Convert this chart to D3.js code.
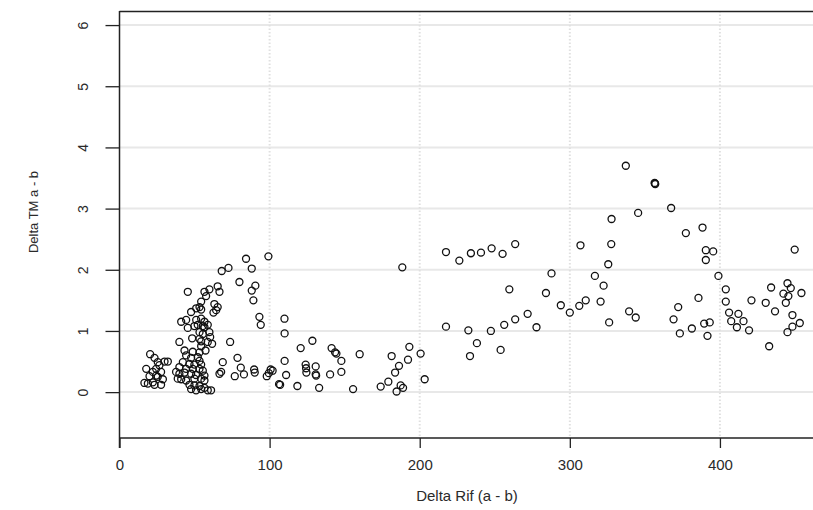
<!DOCTYPE html>
<html>
<head>
<meta charset="utf-8">
<script src="https://cdn.jsdelivr.net/npm/d3@7/dist/d3.min.js"></script>
<style>
  html, body { margin: 0; padding: 0; background: #fff; }
  svg { display: block; }
  text { font-family: "Liberation Sans", Arial, sans-serif; fill: #2a2a2a; }
</style>
</head>
<body>
<svg id="chart" width="813" height="510"></svg>
<script>
// ---- data (Delta Rif (a - b), Delta TM a - b) ----
const deltaRif = [
  // left low cluster
  20.4,23.3,25.5,30.0,32.2,26.6,17.8,24.4,22.2,27.7,24.4,20.0,25.5,28.9,16.6,22.2,18.9,23.3,27.7,
  // main dense cluster (lower)
  45.5,49.9,56.6,53.3,55.5,59.9,60.4,48.4,53.3,54.4,58.8,61.7,39.9,54.4,43.3,48.8,53.3,57.3,44.4,47.7,
  52.2,53.3,42.2,46.6,49.9,54.4,39.9,44.4,48.8,53.3,55.5,37.7,39.9,43.3,47.7,51.0,56.6,38.8,41.1,44.4,
  49.9,54.4,56.6,46.6,49.9,53.3,56.6,47.7,54.4,58.8,61.0,51.0,
  // main dense cluster (upper)
  45.5,56.6,59.9,65.4,66.6,57.7,54.4,53.3,51.1,54.4,63.2,64.4,62.6,65.4,47.7,41.1,44.4,51.1,54.4,56.6,
  52.1,55.5,58.8,
  // 60 - 130
  68.1,72.6,79.9,84.3,99.2,88.1,90.5,88.1,89.2,93.2,94.1,109.9,110.0,73.7,78.6,68.8,66.6,67.7,76.8,80.8,
  82.9,89.7,90.1,98.1,100.7,99.5,102.0,106.3,107.0,111.0,118.5,110.0,120.7,128.5,
  // 120 - 210
  124.0,124.5,124.3,130.7,130.7,131.0,133.0,140.3,141.3,143.6,144.5,147.8,147.8,160.0,155.6,181.3,193.1,
  200.6,192.2,186.2,183.6,203.3,179.1,174.0,187.3,188.9,184.6,188.4,
  // right part
  217.5,226.4,234.1,240.8,247.9,255.2,263.6,259.7,217.5,232.4,247.4,256.3,263.6,271.9,277.8,284.1,287.8,
  294.0,300.0,306.3,307.1,310.6,316.7,320.5,322.5,325.6,326.2,327.8,327.6,337.3,339.5,343.9,345.5,356.7,
  356.9,356.5,367.5,369.1,372.2,373.3,377.3,381.3,385.7,388.4,389.5,390.6,395.5,390.6,393.2,391.7,399.0,
  403.9,403.9,406.1,412.3,407.5,415.7,411.3,419.4,421.0,430.5,434.1,436.7,442.3,443.9,445.0,447.2,445.6,
  454.3,448.3,453.2,448.3,445.0,449.8,432.8,233.5,238.1,253.9
];
const deltaTM = [
  0.62,0.56,0.49,0.50,0.50,0.44,0.38,0.38,0.33,0.33,0.27,0.26,0.25,0.21,0.15,0.16,0.14,0.12,0.12,
  1.05,1.08,1.06,0.98,0.95,0.98,0.90,0.88,0.87,0.83,0.82,0.79,0.82,0.75,0.68,0.66,0.65,0.68,0.60,0.56,
  0.57,0.51,0.49,0.46,0.45,0.45,0.41,0.38,0.38,0.38,0.35,0.33,0.30,0.32,0.30,0.28,0.27,0.22,0.21,0.19,
  0.22,0.22,0.19,0.12,0.11,0.10,0.07,0.05,0.05,0.03,0.03,0.03,
  1.64,1.64,1.68,1.73,1.64,1.57,1.48,1.39,1.37,1.35,1.44,1.34,1.30,1.39,1.31,1.15,1.18,1.18,1.20,1.15,
  1.10,1.08,1.10,
  1.98,2.03,1.80,2.18,2.22,2.02,1.74,1.66,1.50,1.23,1.10,1.20,0.96,0.82,0.56,0.49,0.30,0.33,0.26,0.40,
  0.29,0.37,0.32,0.26,0.37,0.31,0.35,0.13,0.12,0.28,0.10,0.51,0.72,0.84,
  0.45,0.32,0.39,0.42,0.29,0.27,0.07,0.29,0.72,0.65,0.63,0.51,0.33,0.62,0.05,0.59,0.74,
  0.63,0.53,0.43,0.32,0.21,0.17,0.09,0.11,0.07,0.01,2.04,
  2.29,2.15,2.27,2.28,2.35,2.26,2.42,1.68,1.07,1.01,1.00,1.10,1.19,1.28,1.06,1.62,1.94,
  1.42,1.30,1.41,2.40,1.50,1.90,1.48,1.74,2.09,1.14,2.83,2.42,3.70,1.32,1.22,2.93,3.41,
  3.40,3.42,3.01,1.19,1.39,0.96,2.60,1.04,1.54,2.69,1.12,2.32,2.30,2.16,1.14,0.92,1.90,
  1.68,1.48,1.30,1.28,1.16,1.16,1.06,1.01,1.50,1.46,1.71,1.32,1.61,1.46,1.78,1.70,1.57,
  1.62,1.26,1.13,1.07,0.98,2.33,0.75,0.59,0.80,0.69
];
const xTicks = [0, 100, 200, 300, 400];
const yTicks = [0, 1, 2, 3, 4, 5, 6];
const xTitle = "Delta Rif (a - b)";
const yTitle = "Delta TM a - b";

const points = deltaRif.map((d, i) => ({ x: d, y: deltaTM[i] }));

// ---- layout ----
const svg = d3.select("#chart");
const plotLeft = 119.5, plotRight = 813, plotTop = 11, plotBottom = 438;
const x = d3.scaleLinear().domain([0, 462.0]).range([plotLeft, plotRight]);
const y = d3.scaleLinear().domain([-0.75, 6.23]).range([plotBottom, plotTop]);

// grid
const grid = svg.append("g");
grid.selectAll("line.h").data(yTicks).join("line")
  .attr("x1", plotLeft).attr("x2", plotRight)
  .attr("y1", d => y(d)).attr("y2", d => y(d))
  .attr("stroke", "#e8e8e8").attr("stroke-width", 2);
grid.selectAll("line.v").data(xTicks.filter(d => d > 0)).join("line")
  .attr("x1", d => x(d)).attr("x2", d => x(d))
  .attr("y1", plotTop).attr("y2", plotBottom)
  .attr("stroke", "#e0e0e0").attr("stroke-width", 2)
  .attr("stroke-dasharray", "1.5,2");

// frame (top)
svg.append("line").attr("x1", plotLeft).attr("x2", plotRight)
  .attr("y1", plotTop + 0.5).attr("y2", plotTop + 0.5)
  .attr("stroke", "#222").attr("stroke-width", 1.3);

// x axis
const xAxis = svg.append("g").attr("transform", `translate(0,${plotBottom})`)
  .call(d3.axisBottom(x).tickValues(xTicks).tickSize(10).tickPadding(11).tickFormat(d3.format("d")));
xAxis.select(".domain").attr("stroke", "#222").attr("stroke-width", 1.5)
  .attr("d", `M${plotLeft},0H${plotRight}`);
xAxis.selectAll(".tick line").attr("stroke", "#222").attr("stroke-width", 1.3);
xAxis.selectAll(".tick text").attr("font-size", 15).attr("fill", "#2a2a2a")
  .attr("font-family", "Liberation Sans, Arial, sans-serif");

// y axis
const yAxis = svg.append("g").attr("transform", `translate(${plotLeft},0)`)
  .call(d3.axisLeft(y).tickValues(yTicks).tickSize(14).tickFormat(d3.format("d")));
yAxis.select(".domain").attr("stroke", "#222").attr("stroke-width", 1.5)
  .attr("d", `M0,${plotTop}V${plotBottom + 10}`);
yAxis.selectAll(".tick line").attr("stroke", "#222").attr("stroke-width", 1.3);
yAxis.selectAll(".tick text")
  .attr("font-size", 14).attr("fill", "#2a2a2a")
  .attr("font-family", "Liberation Sans, Arial, sans-serif")
  .attr("text-anchor", "middle")
  .attr("transform", "rotate(-90)")
  .attr("x", 0).attr("y", -32).attr("dy", 0);

// titles
svg.append("text").attr("x", 467).attr("y", 501)
  .attr("text-anchor", "middle").attr("font-size", 15).text(xTitle);
svg.append("text").attr("transform", "translate(38,212) rotate(-90)")
  .attr("text-anchor", "middle").attr("font-size", 13).text(yTitle);

// points
svg.append("g").selectAll("circle").data(points).join("circle")
  .attr("cx", d => x(d.x)).attr("cy", d => y(d.y)).attr("r", 3.5)
  .attr("fill", "none").attr("stroke", "#111").attr("stroke-width", 1.3);
</script>
</body>
</html>
